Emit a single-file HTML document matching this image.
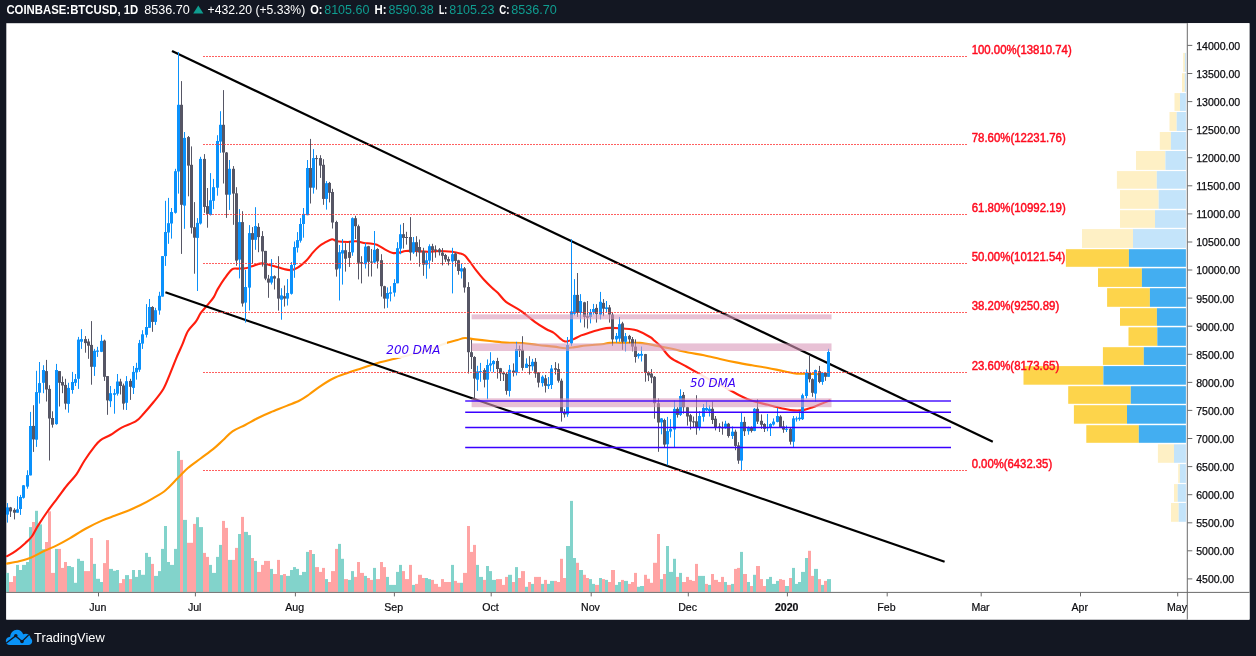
<!DOCTYPE html>
<html><head><meta charset="utf-8"><title>COINBASE:BTCUSD 1D - TradingView</title>
<style>html,body{margin:0;padding:0;background:#131722;overflow:hidden}svg{display:block}text{font-family:"Liberation Sans","DejaVu Sans",sans-serif}</style></head>
<body>
<svg width="1256" height="656" viewBox="0 0 1256 656">
<rect x="0" y="0" width="1256" height="656" fill="#131722"/>
<rect x="6.3" y="23.2" width="1243.1" height="596.3" fill="#ffffff"/>
<g id="vp">
<rect x="1183.2" y="52.9" width="1.7" height="19.0" fill="#fef0c5"/><rect x="1184.9" y="52.9" width="1.0" height="19.0" fill="#c4e4fa"/>
<rect x="1182.0" y="73.2" width="2.8" height="18.7" fill="#fef0c5"/><rect x="1184.8" y="73.2" width="1.1" height="18.7" fill="#c4e4fa"/>
<rect x="1174.5" y="93.1" width="5.5" height="17.8" fill="#fef0c5"/><rect x="1180.0" y="93.1" width="5.9" height="17.8" fill="#c4e4fa"/>
<rect x="1169.5" y="112.0" width="7.2" height="18.9" fill="#fef0c5"/><rect x="1176.7" y="112.0" width="9.2" height="18.9" fill="#c4e4fa"/>
<rect x="1159.8" y="132.0" width="11.1" height="17.8" fill="#fef0c5"/><rect x="1170.9" y="132.0" width="15.0" height="17.8" fill="#c4e4fa"/>
<rect x="1136.0" y="151.0" width="29.4" height="18.9" fill="#fef0c5"/><rect x="1165.4" y="151.0" width="20.5" height="18.9" fill="#c4e4fa"/>
<rect x="1116.9" y="171.1" width="39.9" height="17.6" fill="#fef0c5"/><rect x="1156.8" y="171.1" width="29.1" height="17.6" fill="#c4e4fa"/>
<rect x="1120.0" y="190.1" width="38.7" height="18.7" fill="#fef0c5"/><rect x="1158.7" y="190.1" width="27.2" height="18.7" fill="#c4e4fa"/>
<rect x="1120.0" y="210.2" width="35.0" height="17.6" fill="#fef0c5"/><rect x="1155.0" y="210.2" width="30.9" height="17.6" fill="#c4e4fa"/>
<rect x="1082.0" y="229.1" width="51.0" height="18.8" fill="#fef0c5"/><rect x="1133.0" y="229.1" width="52.9" height="18.8" fill="#c4e4fa"/>
<rect x="1065.9" y="249.2" width="63.0" height="17.6" fill="#fdd44b"/><rect x="1128.9" y="249.2" width="57.0" height="17.6" fill="#43aef1"/>
<rect x="1098.0" y="268.3" width="43.9" height="18.6" fill="#fdd44b"/><rect x="1141.9" y="268.3" width="44.0" height="18.6" fill="#43aef1"/>
<rect x="1107.1" y="288.2" width="42.8" height="18.6" fill="#fdd44b"/><rect x="1149.9" y="288.2" width="36.0" height="18.6" fill="#43aef1"/>
<rect x="1120.0" y="308.2" width="36.9" height="17.6" fill="#fdd44b"/><rect x="1156.9" y="308.2" width="29.0" height="17.6" fill="#43aef1"/>
<rect x="1128.5" y="327.3" width="28.8" height="18.5" fill="#fdd44b"/><rect x="1157.3" y="327.3" width="28.6" height="18.5" fill="#43aef1"/>
<rect x="1102.9" y="347.2" width="40.9" height="17.7" fill="#fdd44b"/><rect x="1143.8" y="347.2" width="42.1" height="17.7" fill="#43aef1"/>
<rect x="1023.5" y="366.1" width="79.9" height="18.6" fill="#fdd44b"/><rect x="1103.4" y="366.1" width="82.5" height="18.6" fill="#43aef1"/>
<rect x="1068.2" y="386.2" width="62.6" height="17.6" fill="#fdd44b"/><rect x="1130.8" y="386.2" width="55.1" height="17.6" fill="#43aef1"/>
<rect x="1073.9" y="405.2" width="53.1" height="18.5" fill="#fdd44b"/><rect x="1127.0" y="405.2" width="58.9" height="18.5" fill="#43aef1"/>
<rect x="1086.3" y="425.2" width="52.5" height="17.6" fill="#fdd44b"/><rect x="1138.8" y="425.2" width="47.1" height="17.6" fill="#43aef1"/>
<rect x="1157.9" y="444.3" width="16.1" height="18.5" fill="#fef0c5"/><rect x="1174.0" y="444.3" width="11.9" height="18.5" fill="#c4e4fa"/>
<rect x="1178.2" y="464.1" width="1.7" height="18.8" fill="#fef0c5"/><rect x="1179.9" y="464.1" width="6.0" height="18.8" fill="#c4e4fa"/>
<rect x="1174.0" y="484.1" width="3.7" height="17.7" fill="#fef0c5"/><rect x="1177.7" y="484.1" width="8.2" height="17.7" fill="#c4e4fa"/>
<rect x="1171.0" y="503.0" width="7.7" height="18.8" fill="#fef0c5"/><rect x="1178.7" y="503.0" width="7.2" height="18.8" fill="#c4e4fa"/>
</g>
<g id="vol">
<rect x="6" y="572.9" width="3" height="19.0" fill="#82d3cb"/><rect x="9" y="582.0" width="4" height="9.9" fill="#ffa4a4"/><rect x="13" y="576.1" width="3" height="15.8" fill="#ffa4a4"/><rect x="16" y="564.9" width="3" height="27.0" fill="#82d3cb"/><rect x="19" y="570.0" width="3" height="21.9" fill="#82d3cb"/><rect x="22" y="564.9" width="4" height="27.0" fill="#82d3cb"/><rect x="26" y="562.0" width="3" height="29.9" fill="#82d3cb"/><rect x="29" y="527.1" width="3" height="64.8" fill="#82d3cb"/><rect x="32" y="522.0" width="3" height="69.9" fill="#ffa4a4"/><rect x="35" y="510.8" width="3" height="81.1" fill="#82d3cb"/><rect x="38" y="524.4" width="4" height="67.5" fill="#82d3cb"/><rect x="42" y="549.2" width="3" height="42.7" fill="#82d3cb"/><rect x="45" y="542.0" width="3" height="49.9" fill="#ffa4a4"/><rect x="48" y="511.3" width="3" height="80.6" fill="#ffa4a4"/><rect x="51" y="572.9" width="4" height="19.0" fill="#ffa4a4"/><rect x="55" y="548.9" width="3" height="43.0" fill="#82d3cb"/><rect x="58" y="548.9" width="3" height="43.0" fill="#ffa4a4"/><rect x="61" y="567.9" width="3" height="24.0" fill="#ffa4a4"/><rect x="64" y="562.0" width="3" height="29.9" fill="#ffa4a4"/><rect x="67" y="566.0" width="4" height="25.9" fill="#82d3cb"/><rect x="71" y="567.1" width="3" height="24.8" fill="#82d3cb"/><rect x="74" y="582.8" width="3" height="9.1" fill="#82d3cb"/><rect x="77" y="558.8" width="3" height="33.1" fill="#82d3cb"/><rect x="80" y="560.9" width="4" height="31.0" fill="#82d3cb"/><rect x="84" y="571.1" width="3" height="20.8" fill="#ffa4a4"/><rect x="87" y="571.1" width="3" height="20.8" fill="#ffa4a4"/><rect x="90" y="538.0" width="3" height="53.9" fill="#ffa4a4"/><rect x="93" y="563.9" width="3" height="28.0" fill="#82d3cb"/><rect x="96" y="578.8" width="4" height="13.1" fill="#82d3cb"/><rect x="100" y="582.0" width="3" height="9.9" fill="#82d3cb"/><rect x="103" y="563.1" width="3" height="28.8" fill="#ffa4a4"/><rect x="106" y="540.1" width="3" height="51.8" fill="#ffa4a4"/><rect x="109" y="568.9" width="4" height="23.0" fill="#82d3cb"/><rect x="113" y="570.8" width="3" height="21.1" fill="#82d3cb"/><rect x="116" y="570.0" width="3" height="21.9" fill="#82d3cb"/><rect x="119" y="583.1" width="3" height="8.8" fill="#ffa4a4"/><rect x="122" y="579.1" width="3" height="12.8" fill="#ffa4a4"/><rect x="125" y="575.1" width="4" height="16.8" fill="#82d3cb"/><rect x="129" y="579.1" width="3" height="12.8" fill="#ffa4a4"/><rect x="132" y="570.0" width="3" height="21.9" fill="#82d3cb"/><rect x="135" y="576.9" width="3" height="15.0" fill="#82d3cb"/><rect x="138" y="570.0" width="3" height="21.9" fill="#82d3cb"/><rect x="141" y="574.8" width="4" height="17.1" fill="#82d3cb"/><rect x="145" y="552.9" width="3" height="39.0" fill="#82d3cb"/><rect x="148" y="556.9" width="3" height="35.0" fill="#82d3cb"/><rect x="151" y="563.9" width="3" height="28.0" fill="#ffa4a4"/><rect x="154" y="575.9" width="4" height="16.0" fill="#82d3cb"/><rect x="158" y="571.1" width="3" height="20.8" fill="#82d3cb"/><rect x="161" y="548.9" width="3" height="43.0" fill="#82d3cb"/><rect x="164" y="526.0" width="3" height="65.9" fill="#82d3cb"/><rect x="167" y="562.0" width="3" height="29.9" fill="#82d3cb"/><rect x="170" y="564.9" width="4" height="27.0" fill="#82d3cb"/><rect x="174" y="548.9" width="3" height="43.0" fill="#82d3cb"/><rect x="177" y="451.0" width="3" height="140.9" fill="#82d3cb"/><rect x="180" y="459.9" width="3" height="132.0" fill="#ffa4a4"/><rect x="183" y="519.9" width="4" height="72.0" fill="#82d3cb"/><rect x="187" y="542.8" width="3" height="49.1" fill="#ffa4a4"/><rect x="190" y="542.8" width="3" height="49.1" fill="#ffa4a4"/><rect x="193" y="523.9" width="3" height="68.0" fill="#ffa4a4"/><rect x="196" y="517.2" width="3" height="74.7" fill="#82d3cb"/><rect x="199" y="527.1" width="4" height="64.8" fill="#82d3cb"/><rect x="203" y="552.9" width="3" height="39.0" fill="#ffa4a4"/><rect x="206" y="556.9" width="3" height="35.0" fill="#ffa4a4"/><rect x="209" y="564.9" width="3" height="27.0" fill="#82d3cb"/><rect x="212" y="572.9" width="4" height="19.0" fill="#82d3cb"/><rect x="216" y="556.9" width="3" height="35.0" fill="#82d3cb"/><rect x="219" y="544.9" width="3" height="47.0" fill="#82d3cb"/><rect x="222" y="520.9" width="3" height="71.0" fill="#ffa4a4"/><rect x="225" y="527.9" width="3" height="64.0" fill="#ffa4a4"/><rect x="228" y="559.9" width="4" height="32.0" fill="#82d3cb"/><rect x="232" y="559.9" width="3" height="32.0" fill="#ffa4a4"/><rect x="235" y="547.9" width="3" height="44.0" fill="#ffa4a4"/><rect x="238" y="534.0" width="3" height="57.9" fill="#82d3cb"/><rect x="241" y="516.9" width="3" height="75.0" fill="#ffa4a4"/><rect x="244" y="531.9" width="4" height="60.0" fill="#82d3cb"/><rect x="248" y="535.1" width="3" height="56.8" fill="#82d3cb"/><rect x="251" y="558.0" width="3" height="33.9" fill="#ffa4a4"/><rect x="254" y="560.9" width="3" height="31.0" fill="#82d3cb"/><rect x="257" y="571.9" width="4" height="20.0" fill="#ffa4a4"/><rect x="261" y="564.9" width="3" height="27.0" fill="#ffa4a4"/><rect x="264" y="560.9" width="3" height="31.0" fill="#ffa4a4"/><rect x="267" y="560.9" width="3" height="31.0" fill="#ffa4a4"/><rect x="270" y="568.9" width="3" height="23.0" fill="#82d3cb"/><rect x="273" y="574.0" width="4" height="17.9" fill="#ffa4a4"/><rect x="277" y="559.9" width="3" height="32.0" fill="#ffa4a4"/><rect x="280" y="575.1" width="3" height="16.8" fill="#82d3cb"/><rect x="283" y="574.0" width="3" height="17.9" fill="#ffa4a4"/><rect x="286" y="575.9" width="4" height="16.0" fill="#82d3cb"/><rect x="290" y="570.0" width="3" height="21.9" fill="#82d3cb"/><rect x="293" y="567.1" width="3" height="24.8" fill="#82d3cb"/><rect x="296" y="568.9" width="3" height="23.0" fill="#82d3cb"/><rect x="299" y="575.1" width="3" height="16.8" fill="#82d3cb"/><rect x="302" y="571.9" width="4" height="20.0" fill="#82d3cb"/><rect x="306" y="551.9" width="3" height="40.0" fill="#82d3cb"/><rect x="309" y="550.0" width="3" height="41.9" fill="#ffa4a4"/><rect x="312" y="554.0" width="3" height="37.9" fill="#82d3cb"/><rect x="315" y="567.1" width="4" height="24.8" fill="#ffa4a4"/><rect x="319" y="571.9" width="3" height="20.0" fill="#ffa4a4"/><rect x="322" y="567.9" width="3" height="24.0" fill="#ffa4a4"/><rect x="325" y="579.1" width="3" height="12.8" fill="#82d3cb"/><rect x="328" y="582.0" width="3" height="9.9" fill="#ffa4a4"/><rect x="331" y="571.1" width="4" height="20.8" fill="#ffa4a4"/><rect x="335" y="548.9" width="3" height="43.0" fill="#ffa4a4"/><rect x="338" y="543.9" width="3" height="48.0" fill="#82d3cb"/><rect x="341" y="558.8" width="3" height="33.1" fill="#82d3cb"/><rect x="344" y="579.1" width="4" height="12.8" fill="#ffa4a4"/><rect x="348" y="579.9" width="3" height="12.0" fill="#82d3cb"/><rect x="351" y="571.1" width="3" height="20.8" fill="#82d3cb"/><rect x="354" y="576.9" width="3" height="15.0" fill="#ffa4a4"/><rect x="357" y="562.0" width="3" height="29.9" fill="#ffa4a4"/><rect x="360" y="572.9" width="4" height="19.0" fill="#ffa4a4"/><rect x="364" y="575.9" width="3" height="16.0" fill="#82d3cb"/><rect x="367" y="578.0" width="3" height="13.9" fill="#ffa4a4"/><rect x="370" y="579.9" width="3" height="12.0" fill="#ffa4a4"/><rect x="373" y="567.9" width="3" height="24.0" fill="#82d3cb"/><rect x="376" y="579.1" width="4" height="12.8" fill="#ffa4a4"/><rect x="380" y="562.0" width="3" height="29.9" fill="#ffa4a4"/><rect x="383" y="567.1" width="3" height="24.8" fill="#ffa4a4"/><rect x="386" y="576.9" width="3" height="15.0" fill="#82d3cb"/><rect x="389" y="584.9" width="4" height="7.0" fill="#82d3cb"/><rect x="393" y="584.9" width="3" height="7.0" fill="#82d3cb"/><rect x="396" y="571.9" width="3" height="20.0" fill="#82d3cb"/><rect x="399" y="564.9" width="3" height="27.0" fill="#82d3cb"/><rect x="402" y="571.1" width="3" height="20.8" fill="#ffa4a4"/><rect x="405" y="579.1" width="4" height="12.8" fill="#ffa4a4"/><rect x="409" y="564.9" width="3" height="27.0" fill="#ffa4a4"/><rect x="412" y="584.9" width="3" height="7.0" fill="#82d3cb"/><rect x="415" y="583.9" width="3" height="8.0" fill="#ffa4a4"/><rect x="418" y="574.8" width="4" height="17.1" fill="#ffa4a4"/><rect x="422" y="578.0" width="3" height="13.9" fill="#ffa4a4"/><rect x="425" y="578.0" width="3" height="13.9" fill="#82d3cb"/><rect x="428" y="579.1" width="3" height="12.8" fill="#82d3cb"/><rect x="431" y="579.9" width="3" height="12.0" fill="#ffa4a4"/><rect x="434" y="583.9" width="4" height="8.0" fill="#ffa4a4"/><rect x="438" y="586.8" width="3" height="5.1" fill="#ffa4a4"/><rect x="441" y="579.1" width="3" height="12.8" fill="#ffa4a4"/><rect x="444" y="582.0" width="3" height="9.9" fill="#ffa4a4"/><rect x="447" y="582.0" width="4" height="9.9" fill="#ffa4a4"/><rect x="451" y="564.9" width="3" height="27.0" fill="#82d3cb"/><rect x="454" y="580.9" width="3" height="11.0" fill="#ffa4a4"/><rect x="457" y="582.8" width="3" height="9.1" fill="#ffa4a4"/><rect x="460" y="582.8" width="3" height="9.1" fill="#82d3cb"/><rect x="463" y="572.9" width="4" height="19.0" fill="#ffa4a4"/><rect x="467" y="526.0" width="3" height="65.9" fill="#ffa4a4"/><rect x="470" y="551.9" width="3" height="40.0" fill="#ffa4a4"/><rect x="473" y="544.9" width="3" height="47.0" fill="#ffa4a4"/><rect x="476" y="564.9" width="3" height="27.0" fill="#82d3cb"/><rect x="479" y="576.9" width="4" height="15.0" fill="#82d3cb"/><rect x="483" y="579.9" width="3" height="12.0" fill="#ffa4a4"/><rect x="486" y="566.0" width="3" height="25.9" fill="#82d3cb"/><rect x="489" y="571.1" width="3" height="20.8" fill="#82d3cb"/><rect x="492" y="579.9" width="4" height="12.0" fill="#82d3cb"/><rect x="496" y="579.1" width="3" height="12.8" fill="#ffa4a4"/><rect x="499" y="579.1" width="3" height="12.8" fill="#ffa4a4"/><rect x="502" y="584.9" width="3" height="7.0" fill="#ffa4a4"/><rect x="505" y="576.9" width="3" height="15.0" fill="#ffa4a4"/><rect x="508" y="574.8" width="4" height="17.1" fill="#82d3cb"/><rect x="512" y="582.0" width="3" height="9.9" fill="#ffa4a4"/><rect x="515" y="567.1" width="3" height="24.8" fill="#82d3cb"/><rect x="518" y="578.0" width="3" height="13.9" fill="#ffa4a4"/><rect x="521" y="571.1" width="4" height="20.8" fill="#ffa4a4"/><rect x="525" y="586.8" width="3" height="5.1" fill="#82d3cb"/><rect x="528" y="582.0" width="3" height="9.9" fill="#ffa4a4"/><rect x="531" y="583.9" width="3" height="8.0" fill="#82d3cb"/><rect x="534" y="576.9" width="3" height="15.0" fill="#ffa4a4"/><rect x="537" y="576.9" width="4" height="15.0" fill="#ffa4a4"/><rect x="541" y="583.9" width="3" height="8.0" fill="#82d3cb"/><rect x="544" y="579.9" width="3" height="12.0" fill="#ffa4a4"/><rect x="547" y="583.9" width="3" height="8.0" fill="#82d3cb"/><rect x="550" y="580.9" width="4" height="11.0" fill="#82d3cb"/><rect x="554" y="580.9" width="3" height="11.0" fill="#ffa4a4"/><rect x="557" y="582.0" width="3" height="9.9" fill="#ffa4a4"/><rect x="560" y="558.8" width="3" height="33.1" fill="#ffa4a4"/><rect x="563" y="578.0" width="3" height="13.9" fill="#ffa4a4"/><rect x="566" y="546.0" width="4" height="45.9" fill="#82d3cb"/><rect x="570" y="500.9" width="3" height="91.0" fill="#82d3cb"/><rect x="573" y="558.0" width="3" height="33.9" fill="#82d3cb"/><rect x="576" y="562.8" width="3" height="29.1" fill="#ffa4a4"/><rect x="579" y="570.0" width="4" height="21.9" fill="#82d3cb"/><rect x="583" y="574.8" width="3" height="17.1" fill="#ffa4a4"/><rect x="586" y="578.0" width="3" height="13.9" fill="#ffa4a4"/><rect x="589" y="579.1" width="3" height="12.8" fill="#82d3cb"/><rect x="592" y="583.9" width="3" height="8.0" fill="#82d3cb"/><rect x="595" y="584.9" width="4" height="7.0" fill="#ffa4a4"/><rect x="599" y="578.0" width="3" height="13.9" fill="#82d3cb"/><rect x="602" y="579.1" width="3" height="12.8" fill="#ffa4a4"/><rect x="605" y="579.9" width="3" height="12.0" fill="#82d3cb"/><rect x="608" y="582.0" width="3" height="9.9" fill="#ffa4a4"/><rect x="611" y="570.0" width="4" height="21.9" fill="#ffa4a4"/><rect x="615" y="584.9" width="3" height="7.0" fill="#82d3cb"/><rect x="618" y="582.0" width="3" height="9.9" fill="#82d3cb"/><rect x="621" y="579.9" width="3" height="12.0" fill="#ffa4a4"/><rect x="624" y="580.9" width="4" height="11.0" fill="#82d3cb"/><rect x="628" y="583.9" width="3" height="8.0" fill="#ffa4a4"/><rect x="631" y="582.0" width="3" height="9.9" fill="#ffa4a4"/><rect x="634" y="572.9" width="3" height="19.0" fill="#ffa4a4"/><rect x="637" y="586.8" width="3" height="5.1" fill="#82d3cb"/><rect x="640" y="586.0" width="4" height="5.9" fill="#82d3cb"/><rect x="644" y="574.8" width="3" height="17.1" fill="#ffa4a4"/><rect x="647" y="578.8" width="3" height="13.1" fill="#ffa4a4"/><rect x="650" y="582.8" width="3" height="9.1" fill="#ffa4a4"/><rect x="653" y="562.8" width="4" height="29.1" fill="#ffa4a4"/><rect x="657" y="534.0" width="3" height="57.9" fill="#ffa4a4"/><rect x="660" y="579.1" width="3" height="12.8" fill="#82d3cb"/><rect x="663" y="574.0" width="3" height="17.9" fill="#ffa4a4"/><rect x="666" y="546.0" width="3" height="45.9" fill="#82d3cb"/><rect x="669" y="571.9" width="4" height="20.0" fill="#82d3cb"/><rect x="673" y="558.8" width="3" height="33.1" fill="#82d3cb"/><rect x="676" y="576.9" width="3" height="15.0" fill="#ffa4a4"/><rect x="679" y="572.9" width="3" height="19.0" fill="#82d3cb"/><rect x="682" y="582.0" width="4" height="9.9" fill="#ffa4a4"/><rect x="686" y="576.9" width="3" height="15.0" fill="#ffa4a4"/><rect x="689" y="579.9" width="3" height="12.0" fill="#ffa4a4"/><rect x="692" y="580.9" width="3" height="11.0" fill="#ffa4a4"/><rect x="695" y="563.9" width="3" height="28.0" fill="#ffa4a4"/><rect x="698" y="575.9" width="4" height="16.0" fill="#82d3cb"/><rect x="702" y="575.9" width="3" height="16.0" fill="#82d3cb"/><rect x="705" y="583.9" width="3" height="8.0" fill="#ffa4a4"/><rect x="708" y="584.9" width="3" height="7.0" fill="#82d3cb"/><rect x="711" y="574.0" width="3" height="17.9" fill="#ffa4a4"/><rect x="714" y="579.9" width="4" height="12.0" fill="#ffa4a4"/><rect x="718" y="582.0" width="3" height="9.9" fill="#ffa4a4"/><rect x="721" y="576.9" width="3" height="15.0" fill="#ffa4a4"/><rect x="724" y="582.0" width="3" height="9.9" fill="#82d3cb"/><rect x="727" y="584.9" width="4" height="7.0" fill="#ffa4a4"/><rect x="731" y="583.9" width="3" height="8.0" fill="#82d3cb"/><rect x="734" y="568.9" width="3" height="23.0" fill="#ffa4a4"/><rect x="737" y="567.9" width="3" height="24.0" fill="#ffa4a4"/><rect x="740" y="551.9" width="3" height="40.0" fill="#82d3cb"/><rect x="743" y="574.0" width="4" height="17.9" fill="#ffa4a4"/><rect x="747" y="582.0" width="3" height="9.9" fill="#82d3cb"/><rect x="750" y="586.0" width="3" height="5.9" fill="#ffa4a4"/><rect x="753" y="574.8" width="3" height="17.1" fill="#82d3cb"/><rect x="756" y="566.0" width="4" height="25.9" fill="#ffa4a4"/><rect x="760" y="579.1" width="3" height="12.8" fill="#ffa4a4"/><rect x="763" y="586.0" width="3" height="5.9" fill="#ffa4a4"/><rect x="766" y="579.1" width="3" height="12.8" fill="#82d3cb"/><rect x="769" y="576.9" width="3" height="15.0" fill="#82d3cb"/><rect x="772" y="583.9" width="4" height="8.0" fill="#82d3cb"/><rect x="776" y="580.9" width="3" height="11.0" fill="#82d3cb"/><rect x="779" y="579.1" width="3" height="12.8" fill="#ffa4a4"/><rect x="782" y="579.9" width="3" height="12.0" fill="#ffa4a4"/><rect x="785" y="586.0" width="4" height="5.9" fill="#82d3cb"/><rect x="789" y="578.0" width="3" height="13.9" fill="#ffa4a4"/><rect x="792" y="567.9" width="3" height="24.0" fill="#82d3cb"/><rect x="795" y="583.9" width="3" height="8.0" fill="#82d3cb"/><rect x="798" y="582.0" width="3" height="9.9" fill="#82d3cb"/><rect x="801" y="571.9" width="4" height="20.0" fill="#82d3cb"/><rect x="805" y="558.0" width="3" height="33.9" fill="#82d3cb"/><rect x="808" y="550.8" width="3" height="41.1" fill="#ffa4a4"/><rect x="811" y="575.9" width="3" height="16.0" fill="#ffa4a4"/><rect x="814" y="568.9" width="4" height="23.0" fill="#82d3cb"/><rect x="818" y="579.1" width="3" height="12.8" fill="#ffa4a4"/><rect x="821" y="584.9" width="3" height="7.0" fill="#82d3cb"/><rect x="824" y="580.9" width="3" height="11.0" fill="#ffa4a4"/><rect x="827" y="579.1" width="4" height="12.8" fill="#82d3cb"/>
</g>
<path d="M7.0,563.6 C9.0,563.2 15.0,562.4 19.1,561.3 C23.2,560.2 27.6,559.0 31.8,557.2 C36.0,555.5 40.4,552.8 44.6,550.8 C48.9,548.8 53.0,547.2 57.3,545.1 C61.5,543.0 65.3,540.9 70.1,538.1 C74.9,535.3 80.7,531.4 86.0,528.5 C91.3,525.6 97.1,522.7 101.9,520.6 C106.7,518.5 110.3,517.4 114.6,515.8 C118.8,514.2 123.2,512.8 127.4,511.0 C131.7,509.2 135.8,507.4 140.1,505.3 C144.3,503.2 148.7,500.8 152.9,498.3 C157.2,495.8 161.4,493.8 165.6,490.3 C169.8,486.9 174.6,481.3 178.3,477.6 C182.0,473.9 184.2,471.2 187.9,468.0 C191.6,464.8 196.3,461.7 200.6,458.5 C204.8,455.3 209.7,451.9 213.4,448.9 C217.1,445.9 219.7,443.2 222.9,440.3 C226.1,437.4 228.8,433.9 232.5,431.4 C236.2,428.8 240.9,427.2 245.2,425.0 C249.4,422.8 253.8,420.1 258.0,418.0 C262.2,415.9 265.9,414.3 270.7,412.3 C275.5,410.3 281.8,407.9 286.6,405.9 C291.4,403.9 295.9,402.4 299.6,400.5 C303.4,398.6 305.9,396.7 309.1,394.5 C312.3,392.3 314.7,390.0 318.7,387.3 C322.7,384.6 328.3,380.9 333.1,378.5 C337.9,376.1 342.6,374.7 347.4,373.0 C352.2,371.3 357.0,369.8 361.8,368.2 C366.6,366.6 371.3,364.8 376.1,363.4 C380.9,362.0 385.7,361.0 390.5,359.8 C395.3,358.6 400.0,357.5 404.8,356.2 C409.6,354.9 414.4,353.6 419.2,352.2 C424.0,350.8 428.7,349.4 433.5,347.8 C438.3,346.2 443.9,343.9 447.9,342.6 C451.9,341.3 454.6,340.8 457.5,340.0 C460.4,339.2 462.1,338.1 465.0,338.0 C467.9,337.9 470.8,338.9 475.0,339.4 C479.2,339.9 484.8,340.5 490.0,341.0 C495.2,341.5 500.7,342.3 506.0,342.6 C511.3,342.9 516.7,342.6 522.0,343.0 C527.3,343.4 532.7,344.4 538.0,345.0 C543.3,345.6 549.5,346.1 554.0,346.6 C558.5,347.1 561.7,348.1 565.2,348.2 C568.7,348.3 571.3,347.6 574.8,347.1 C578.3,346.7 581.5,346.0 586.0,345.5 C590.5,345.0 598.0,344.6 602.0,344.2 C606.0,343.8 606.0,343.1 610.0,342.9 C614.0,342.7 621.0,342.9 626.0,342.9 C631.0,342.9 635.0,342.4 640.0,342.9 C645.0,343.3 650.7,344.6 656.0,345.6 C661.3,346.6 666.7,347.7 672.0,348.8 C677.3,349.9 682.7,351.4 688.0,352.5 C693.3,353.6 698.7,354.1 704.0,355.2 C709.3,356.3 714.7,357.7 720.0,358.9 C725.3,360.1 730.7,361.3 736.0,362.4 C741.3,363.5 746.7,364.4 752.0,365.3 C757.3,366.2 762.7,367.0 768.0,368.0 C773.3,369.0 779.2,370.3 784.0,371.2 C788.8,372.1 793.1,373.2 796.8,373.6 C800.5,374.0 803.7,373.7 806.4,373.8 C809.1,373.9 809.0,373.9 812.8,374.0 C816.6,374.1 826.3,374.5 829.0,374.6" fill="none" stroke="#ff9800" stroke-width="2.1" stroke-linejoin="round" stroke-linecap="round"/>
<path d="M7.0,556.2 C8.5,555.3 12.8,553.0 15.9,550.8 C19.0,548.6 22.9,545.3 25.5,542.9 C28.1,540.5 29.7,539.4 31.8,536.5 C33.9,533.6 35.5,529.6 38.2,525.4 C40.9,521.1 44.6,515.5 47.8,511.0 C51.0,506.5 54.1,502.6 57.3,498.3 C60.5,494.1 63.7,489.5 66.9,485.5 C70.1,481.5 73.5,478.5 76.4,474.4 C79.3,470.3 81.5,465.2 84.4,460.7 C87.3,456.2 91.2,450.7 93.9,447.3 C96.6,443.9 97.5,442.4 100.3,440.3 C103.0,438.2 106.9,437.1 110.4,435.0 C114.0,432.9 117.3,429.9 121.6,427.6 C125.9,425.3 132.3,423.6 136.0,421.2 C139.7,418.8 141.1,416.4 144.0,413.2 C146.9,410.0 150.4,406.0 153.6,402.0 C156.8,398.0 160.5,393.7 163.2,389.2 C165.9,384.7 167.5,379.9 169.6,374.8 C171.7,369.7 173.9,363.9 176.0,358.8 C178.1,353.7 180.4,349.0 182.4,344.4 C184.4,339.8 185.7,334.8 188.0,331.0 C190.3,327.2 193.9,324.4 196.0,321.4 C198.1,318.4 198.9,315.6 200.8,312.9 C202.7,310.2 205.1,308.0 207.2,305.4 C209.3,302.8 211.9,300.1 213.6,297.4 C215.3,294.7 215.7,292.6 217.6,289.4 C219.5,286.2 222.4,281.5 224.8,278.2 C227.2,274.9 229.9,271.0 232.0,269.4 C234.1,267.8 235.3,268.8 237.6,268.6 C239.9,268.4 243.2,268.6 245.6,268.2 C248.0,267.8 249.3,267.1 252.0,266.3 C254.7,265.5 258.1,263.5 261.6,263.4 C265.1,263.3 269.1,264.9 272.8,265.8 C276.5,266.7 281.1,268.3 284.0,269.0 C286.9,269.7 288.3,270.2 290.4,270.1 C292.5,270.0 294.1,269.8 296.8,268.2 C299.5,266.6 303.7,263.0 306.4,260.4 C309.1,257.8 310.7,255.0 312.8,252.6 C314.9,250.2 317.1,247.9 319.2,246.2 C321.3,244.5 323.5,243.4 325.6,242.2 C327.7,241.0 330.1,239.4 332.0,239.2 C333.9,239.0 334.1,240.7 336.8,241.2 C339.5,241.7 344.8,242.0 348.0,242.0 C351.2,242.0 353.3,241.0 356.0,241.2 C358.7,241.4 361.6,242.6 364.0,243.0 C366.4,243.4 368.3,243.2 370.4,243.5 C372.5,243.8 374.4,243.7 376.8,244.7 C379.2,245.7 382.1,248.0 384.8,249.4 C387.5,250.8 390.4,252.5 392.8,253.0 C395.2,253.5 397.1,252.9 399.2,252.6 C401.3,252.3 402.9,251.3 405.6,251.0 C408.3,250.7 411.5,250.9 415.2,251.0 C418.9,251.1 424.0,251.8 428.0,251.8 C432.0,251.8 435.2,251.0 439.2,251.0 C443.2,251.0 448.5,251.4 452.0,251.8 C455.5,252.2 457.9,252.8 460.0,253.4 C462.1,254.0 463.2,254.2 464.8,255.5 C466.4,256.8 467.7,258.9 469.6,261.4 C471.5,263.8 473.6,267.1 476.0,270.2 C478.4,273.3 481.3,276.9 484.0,279.8 C486.7,282.7 489.7,285.6 492.0,287.8 C494.3,290.0 495.7,290.7 498.0,293.0 C500.3,295.3 502.3,298.9 506.0,301.8 C509.7,304.7 515.6,307.3 520.4,310.6 C525.2,313.9 530.5,318.7 534.8,321.8 C539.1,324.9 542.8,327.1 546.0,329.0 C549.2,330.9 551.6,331.4 554.0,333.0 C556.4,334.6 558.7,337.2 560.4,338.6 C562.1,340.0 563.1,340.9 564.4,341.3 C565.7,341.7 566.9,341.3 568.4,341.0 C569.9,340.7 571.1,340.3 573.2,339.4 C575.3,338.5 578.3,336.6 581.2,335.4 C584.1,334.2 587.3,333.3 590.8,332.2 C594.3,331.1 598.8,329.7 602.0,329.0 C605.2,328.3 607.1,328.0 610.0,327.9 C612.9,327.8 616.4,328.0 619.6,328.2 C622.8,328.4 626.3,328.6 629.2,329.0 C632.1,329.4 633.7,329.3 637.2,330.6 C640.7,331.9 647.3,335.4 650.0,337.0 C652.7,338.6 651.8,338.4 653.6,340.0 C655.4,341.6 658.0,343.5 660.8,346.4 C663.6,349.3 666.4,354.4 670.4,357.6 C674.4,360.8 680.3,363.1 684.8,365.6 C689.3,368.1 693.9,370.7 697.6,372.8 C701.3,374.9 702.7,376.0 707.2,378.4 C711.7,380.8 719.5,384.4 724.8,387.2 C730.1,390.0 734.7,392.9 739.2,395.2 C743.7,397.5 747.2,399.2 752.0,400.8 C756.8,402.4 762.7,403.5 768.0,404.8 C773.3,406.1 779.7,407.9 784.0,408.8 C788.3,409.7 790.4,410.2 793.6,410.4 C796.8,410.6 800.0,410.6 803.2,410.1 C806.4,409.6 809.9,408.2 812.8,407.2 C815.7,406.2 818.0,405.1 820.8,404.0 C823.6,402.9 828.1,401.1 829.6,400.5" fill="none" stroke="#ff1d0d" stroke-width="2.1" stroke-linejoin="round" stroke-linecap="round"/>
<line x1="172" y1="51" x2="992.8" y2="441.7" stroke="#000" stroke-width="2.2" stroke-linecap="butt"/>
<line x1="165.4" y1="292.2" x2="944.6" y2="561.8" stroke="#000" stroke-width="2.2" stroke-linecap="butt"/>
<g id="candles">
<rect x="7" y="503.1" width="1" height="19.5" fill="#0a91fb"/><rect x="6" y="507.4" width="3" height="7.2" fill="#0a91fb"/>
<rect x="10" y="506.9" width="1" height="10.1" fill="#565665"/><rect x="9" y="507.4" width="3" height="4.0" fill="#565665"/>
<rect x="14" y="508.2" width="1" height="11.2" fill="#565665"/><rect x="13" y="509.8" width="3" height="2.9" fill="#565665"/>
<rect x="17" y="496.2" width="1" height="16.5" fill="#0a91fb"/><rect x="16" y="509.3" width="3" height="3.4" fill="#0a91fb"/>
<rect x="20" y="494.9" width="1" height="20.0" fill="#0a91fb"/><rect x="19" y="497.0" width="3" height="12.0" fill="#0a91fb"/>
<rect x="23" y="485.0" width="1" height="13.6" fill="#0a91fb"/><rect x="22" y="485.3" width="3" height="12.5" fill="#0a91fb"/>
<rect x="27" y="470.3" width="1" height="18.4" fill="#0a91fb"/><rect x="26" y="475.1" width="3" height="11.5" fill="#0a91fb"/>
<rect x="30" y="411.9" width="1" height="63.5" fill="#0a91fb"/><rect x="29" y="426.0" width="3" height="49.4" fill="#0a91fb"/>
<rect x="33" y="405.2" width="1" height="46.7" fill="#565665"/><rect x="32" y="425.9" width="3" height="13.5" fill="#565665"/>
<rect x="36" y="370.8" width="1" height="76.1" fill="#0a91fb"/><rect x="35" y="392.1" width="3" height="47.6" fill="#0a91fb"/>
<rect x="39" y="362.0" width="1" height="41.6" fill="#0a91fb"/><rect x="38" y="383.1" width="3" height="9.6" fill="#0a91fb"/>
<rect x="43" y="365.2" width="1" height="28.0" fill="#0a91fb"/><rect x="42" y="370.0" width="3" height="12.8" fill="#0a91fb"/>
<rect x="46" y="359.9" width="1" height="41.6" fill="#565665"/><rect x="45" y="371.1" width="3" height="18.4" fill="#565665"/>
<rect x="49" y="385.2" width="1" height="75.3" fill="#565665"/><rect x="48" y="388.9" width="3" height="29.6" fill="#565665"/>
<rect x="52" y="411.3" width="1" height="16.3" fill="#565665"/><rect x="51" y="418.0" width="3" height="6.7" fill="#565665"/>
<rect x="56" y="363.9" width="1" height="60.8" fill="#0a91fb"/><rect x="55" y="370.0" width="3" height="54.1" fill="#0a91fb"/>
<rect x="59" y="371.1" width="1" height="35.4" fill="#565665"/><rect x="58" y="371.1" width="3" height="11.7" fill="#565665"/>
<rect x="62" y="376.4" width="1" height="16.8" fill="#565665"/><rect x="61" y="382.0" width="3" height="3.5" fill="#565665"/>
<rect x="65" y="378.8" width="1" height="30.7" fill="#565665"/><rect x="64" y="384.9" width="3" height="18.7" fill="#565665"/>
<rect x="68" y="382.8" width="1" height="29.9" fill="#0a91fb"/><rect x="67" y="387.9" width="3" height="16.0" fill="#0a91fb"/>
<rect x="72" y="371.9" width="1" height="21.8" fill="#0a91fb"/><rect x="71" y="382.0" width="3" height="8.0" fill="#0a91fb"/>
<rect x="75" y="374.0" width="1" height="12.0" fill="#0a91fb"/><rect x="74" y="379.1" width="3" height="3.7" fill="#0a91fb"/>
<rect x="78" y="336.9" width="1" height="52.0" fill="#0a91fb"/><rect x="77" y="339.6" width="3" height="39.2" fill="#0a91fb"/>
<rect x="81" y="329.1" width="1" height="19.8" fill="#0a91fb"/><rect x="80" y="339.1" width="3" height="2.6" fill="#0a91fb"/>
<rect x="85" y="336.1" width="1" height="16.6" fill="#565665"/><rect x="84" y="339.1" width="3" height="4.0" fill="#565665"/>
<rect x="88" y="338.8" width="1" height="20.0" fill="#565665"/><rect x="87" y="341.5" width="3" height="4.2" fill="#565665"/>
<rect x="91" y="321.1" width="1" height="63.6" fill="#565665"/><rect x="90" y="344.9" width="3" height="21.9" fill="#565665"/>
<rect x="94" y="348.9" width="1" height="27.0" fill="#0a91fb"/><rect x="93" y="350.8" width="3" height="16.0" fill="#0a91fb"/>
<rect x="97" y="346.8" width="1" height="10.1" fill="#0a91fb"/><rect x="96" y="350.5" width="3" height="1.3" fill="#0a91fb"/>
<rect x="101" y="334.8" width="1" height="17.3" fill="#0a91fb"/><rect x="100" y="340.9" width="3" height="10.9" fill="#0a91fb"/>
<rect x="104" y="339.6" width="1" height="41.3" fill="#565665"/><rect x="103" y="340.6" width="3" height="36.2" fill="#565665"/>
<rect x="107" y="376.1" width="1" height="38.7" fill="#565665"/><rect x="106" y="376.1" width="3" height="24.3" fill="#565665"/>
<rect x="110" y="386.0" width="1" height="21.1" fill="#0a91fb"/><rect x="109" y="393.2" width="3" height="8.0" fill="#0a91fb"/>
<rect x="114" y="388.9" width="1" height="24.8" fill="#0a91fb"/><rect x="113" y="393.2" width="3" height="1.6" fill="#0a91fb"/>
<rect x="117" y="374.0" width="1" height="21.6" fill="#0a91fb"/><rect x="116" y="381.5" width="3" height="12.2" fill="#0a91fb"/>
<rect x="120" y="378.8" width="1" height="15.7" fill="#565665"/><rect x="119" y="381.5" width="3" height="4.5" fill="#565665"/>
<rect x="123" y="383.6" width="1" height="26.1" fill="#565665"/><rect x="122" y="385.5" width="3" height="18.1" fill="#565665"/>
<rect x="126" y="376.1" width="1" height="33.9" fill="#0a91fb"/><rect x="125" y="381.2" width="3" height="21.6" fill="#0a91fb"/>
<rect x="130" y="378.8" width="1" height="21.1" fill="#565665"/><rect x="129" y="380.9" width="3" height="5.9" fill="#565665"/>
<rect x="133" y="366.0" width="1" height="28.0" fill="#0a91fb"/><rect x="132" y="371.9" width="3" height="16.0" fill="#0a91fb"/>
<rect x="136" y="362.8" width="1" height="16.8" fill="#0a91fb"/><rect x="135" y="367.9" width="3" height="4.5" fill="#0a91fb"/>
<rect x="139" y="339.9" width="1" height="32.0" fill="#0a91fb"/><rect x="138" y="343.1" width="3" height="26.6" fill="#0a91fb"/>
<rect x="142" y="330.2" width="1" height="18.7" fill="#0a91fb"/><rect x="141" y="334.3" width="3" height="9.3" fill="#0a91fb"/>
<rect x="146" y="304.1" width="1" height="33.4" fill="#0a91fb"/><rect x="145" y="327.0" width="3" height="7.8" fill="#0a91fb"/>
<rect x="149" y="299.0" width="1" height="28.8" fill="#0a91fb"/><rect x="148" y="307.0" width="3" height="20.8" fill="#0a91fb"/>
<rect x="152" y="306.2" width="1" height="25.6" fill="#565665"/><rect x="151" y="307.0" width="3" height="14.9" fill="#565665"/>
<rect x="155" y="307.8" width="1" height="17.1" fill="#0a91fb"/><rect x="154" y="310.2" width="3" height="11.7" fill="#0a91fb"/>
<rect x="159" y="291.8" width="1" height="22.9" fill="#0a91fb"/><rect x="158" y="295.8" width="3" height="14.7" fill="#0a91fb"/>
<rect x="162" y="256.1" width="1" height="40.5" fill="#0a91fb"/><rect x="161" y="256.1" width="3" height="40.5" fill="#0a91fb"/>
<rect x="165" y="200.8" width="1" height="65.1" fill="#0a91fb"/><rect x="164" y="232.0" width="3" height="24.1" fill="#0a91fb"/>
<rect x="168" y="197.9" width="1" height="45.9" fill="#0a91fb"/><rect x="167" y="223.2" width="3" height="9.3" fill="#0a91fb"/>
<rect x="171" y="208.0" width="1" height="30.6" fill="#0a91fb"/><rect x="170" y="212.0" width="3" height="11.5" fill="#0a91fb"/>
<rect x="175" y="168.8" width="1" height="44.8" fill="#0a91fb"/><rect x="174" y="171.2" width="3" height="41.6" fill="#0a91fb"/>
<rect x="178" y="52.0" width="1" height="141.6" fill="#0a91fb"/><rect x="177" y="104.8" width="3" height="66.7" fill="#0a91fb"/>
<rect x="181" y="81.1" width="1" height="172.8" fill="#565665"/><rect x="180" y="104.8" width="3" height="100.0" fill="#565665"/>
<rect x="184" y="132.0" width="1" height="96.8" fill="#0a91fb"/><rect x="183" y="137.9" width="3" height="67.7" fill="#0a91fb"/>
<rect x="188" y="136.0" width="1" height="60.3" fill="#565665"/><rect x="187" y="137.1" width="3" height="28.5" fill="#565665"/>
<rect x="191" y="146.4" width="1" height="87.2" fill="#565665"/><rect x="190" y="164.8" width="3" height="62.9" fill="#565665"/>
<rect x="194" y="202.1" width="1" height="71.6" fill="#565665"/><rect x="193" y="227.2" width="3" height="10.5" fill="#565665"/>
<rect x="197" y="218.1" width="1" height="72.9" fill="#0a91fb"/><rect x="196" y="222.9" width="3" height="15.0" fill="#0a91fb"/>
<rect x="200" y="156.8" width="1" height="67.7" fill="#0a91fb"/><rect x="199" y="158.9" width="3" height="64.6" fill="#0a91fb"/>
<rect x="204" y="154.1" width="1" height="58.7" fill="#565665"/><rect x="203" y="158.9" width="3" height="48.0" fill="#565665"/>
<rect x="207" y="188.0" width="1" height="39.7" fill="#565665"/><rect x="206" y="206.1" width="3" height="7.8" fill="#565665"/>
<rect x="210" y="173.1" width="1" height="42.4" fill="#0a91fb"/><rect x="209" y="200.3" width="3" height="14.6" fill="#0a91fb"/>
<rect x="213" y="178.9" width="1" height="30.2" fill="#0a91fb"/><rect x="212" y="187.2" width="3" height="13.6" fill="#0a91fb"/>
<rect x="217" y="135.2" width="1" height="60.5" fill="#0a91fb"/><rect x="216" y="141.0" width="3" height="46.7" fill="#0a91fb"/>
<rect x="220" y="111.2" width="1" height="41.6" fill="#0a91fb"/><rect x="219" y="124.8" width="3" height="16.8" fill="#0a91fb"/>
<rect x="223" y="90.1" width="1" height="93.4" fill="#565665"/><rect x="222" y="124.8" width="3" height="27.7" fill="#565665"/>
<rect x="226" y="152.0" width="1" height="65.9" fill="#565665"/><rect x="225" y="152.5" width="3" height="42.2" fill="#565665"/>
<rect x="229" y="160.0" width="1" height="49.9" fill="#0a91fb"/><rect x="228" y="168.8" width="3" height="25.9" fill="#0a91fb"/>
<rect x="233" y="166.1" width="1" height="58.7" fill="#565665"/><rect x="232" y="168.8" width="3" height="24.8" fill="#565665"/>
<rect x="236" y="187.2" width="1" height="78.6" fill="#565665"/><rect x="235" y="193.3" width="3" height="67.3" fill="#565665"/>
<rect x="239" y="209.1" width="1" height="69.3" fill="#0a91fb"/><rect x="238" y="222.1" width="3" height="37.5" fill="#0a91fb"/>
<rect x="242" y="211.2" width="1" height="95.4" fill="#565665"/><rect x="241" y="222.1" width="3" height="81.4" fill="#565665"/>
<rect x="245" y="270.0" width="1" height="52.6" fill="#0a91fb"/><rect x="244" y="287.0" width="3" height="15.6" fill="#0a91fb"/>
<rect x="249" y="225.1" width="1" height="85.5" fill="#0a91fb"/><rect x="248" y="233.1" width="3" height="54.5" fill="#0a91fb"/>
<rect x="252" y="227.1" width="1" height="36.5" fill="#565665"/><rect x="251" y="233.1" width="3" height="6.7" fill="#565665"/>
<rect x="255" y="207.2" width="1" height="42.6" fill="#0a91fb"/><rect x="254" y="226.1" width="3" height="13.7" fill="#0a91fb"/>
<rect x="258" y="223.2" width="1" height="29.0" fill="#565665"/><rect x="257" y="226.9" width="3" height="10.2" fill="#565665"/>
<rect x="262" y="231.1" width="1" height="35.5" fill="#565665"/><rect x="261" y="236.1" width="3" height="15.3" fill="#565665"/>
<rect x="265" y="250.9" width="1" height="29.3" fill="#565665"/><rect x="264" y="250.9" width="3" height="27.7" fill="#565665"/>
<rect x="268" y="274.9" width="1" height="22.9" fill="#565665"/><rect x="267" y="278.6" width="3" height="4.0" fill="#565665"/>
<rect x="271" y="259.1" width="1" height="25.4" fill="#0a91fb"/><rect x="270" y="276.2" width="3" height="6.4" fill="#0a91fb"/>
<rect x="274" y="275.4" width="1" height="14.1" fill="#565665"/><rect x="273" y="276.2" width="3" height="2.4" fill="#565665"/>
<rect x="278" y="256.2" width="1" height="54.4" fill="#565665"/><rect x="277" y="278.3" width="3" height="20.3" fill="#565665"/>
<rect x="281" y="288.2" width="1" height="31.5" fill="#0a91fb"/><rect x="280" y="295.4" width="3" height="4.3" fill="#0a91fb"/>
<rect x="284" y="285.5" width="1" height="21.1" fill="#565665"/><rect x="283" y="296.2" width="3" height="2.4" fill="#565665"/>
<rect x="287" y="279.1" width="1" height="26.4" fill="#0a91fb"/><rect x="286" y="293.0" width="3" height="5.6" fill="#0a91fb"/>
<rect x="291" y="262.1" width="1" height="32.5" fill="#0a91fb"/><rect x="290" y="265.0" width="3" height="28.8" fill="#0a91fb"/>
<rect x="294" y="241.5" width="1" height="36.3" fill="#0a91fb"/><rect x="293" y="247.1" width="3" height="17.9" fill="#0a91fb"/>
<rect x="297" y="232.1" width="1" height="20.4" fill="#0a91fb"/><rect x="296" y="240.1" width="3" height="7.6" fill="#0a91fb"/>
<rect x="300" y="218.1" width="1" height="24.5" fill="#0a91fb"/><rect x="299" y="224.0" width="3" height="16.7" fill="#0a91fb"/>
<rect x="303" y="208.0" width="1" height="29.7" fill="#0a91fb"/><rect x="302" y="213.9" width="3" height="10.1" fill="#0a91fb"/>
<rect x="307" y="160.0" width="1" height="55.2" fill="#0a91fb"/><rect x="306" y="168.0" width="3" height="47.2" fill="#0a91fb"/>
<rect x="310" y="138.9" width="1" height="64.6" fill="#565665"/><rect x="309" y="168.0" width="3" height="19.7" fill="#565665"/>
<rect x="313" y="149.1" width="1" height="44.5" fill="#0a91fb"/><rect x="312" y="158.1" width="3" height="29.6" fill="#0a91fb"/>
<rect x="316" y="155.2" width="1" height="34.4" fill="#565665"/><rect x="315" y="158.1" width="3" height="1.0" fill="#565665"/>
<rect x="320" y="155.2" width="1" height="22.7" fill="#565665"/><rect x="319" y="158.1" width="3" height="7.5" fill="#565665"/>
<rect x="323" y="159.2" width="1" height="45.6" fill="#565665"/><rect x="322" y="164.8" width="3" height="34.1" fill="#565665"/>
<rect x="326" y="181.1" width="1" height="28.5" fill="#0a91fb"/><rect x="325" y="183.2" width="3" height="15.7" fill="#0a91fb"/>
<rect x="329" y="181.9" width="1" height="20.5" fill="#565665"/><rect x="328" y="182.9" width="3" height="9.9" fill="#565665"/>
<rect x="332" y="188.8" width="1" height="39.7" fill="#565665"/><rect x="331" y="192.0" width="3" height="30.5" fill="#565665"/>
<rect x="336" y="220.7" width="1" height="55.9" fill="#565665"/><rect x="335" y="222.0" width="3" height="47.5" fill="#565665"/>
<rect x="339" y="245.0" width="1" height="55.5" fill="#0a91fb"/><rect x="338" y="252.2" width="3" height="16.3" fill="#0a91fb"/>
<rect x="342" y="239.0" width="1" height="45.6" fill="#0a91fb"/><rect x="341" y="250.2" width="3" height="3.3" fill="#0a91fb"/>
<rect x="345" y="243.2" width="1" height="28.4" fill="#565665"/><rect x="344" y="250.2" width="3" height="8.5" fill="#565665"/>
<rect x="349" y="241.0" width="1" height="25.9" fill="#565665"/><rect x="348" y="252.1" width="3" height="5.8" fill="#565665"/>
<rect x="352" y="217.4" width="1" height="38.4" fill="#0a91fb"/><rect x="351" y="218.2" width="3" height="34.2" fill="#0a91fb"/>
<rect x="355" y="215.8" width="1" height="23.2" fill="#565665"/><rect x="354" y="218.2" width="3" height="8.0" fill="#565665"/>
<rect x="358" y="224.6" width="1" height="54.8" fill="#565665"/><rect x="357" y="226.2" width="3" height="36.6" fill="#565665"/>
<rect x="361" y="256.2" width="1" height="27.2" fill="#565665"/><rect x="360" y="262.2" width="3" height="1.2" fill="#565665"/>
<rect x="365" y="243.0" width="1" height="25.5" fill="#0a91fb"/><rect x="364" y="246.6" width="3" height="17.6" fill="#0a91fb"/>
<rect x="368" y="245.8" width="1" height="30.7" fill="#565665"/><rect x="367" y="246.2" width="3" height="15.6" fill="#565665"/>
<rect x="371" y="249.0" width="1" height="27.5" fill="#565665"/><rect x="370" y="261.6" width="3" height="1.0" fill="#565665"/>
<rect x="374" y="231.0" width="1" height="32.0" fill="#0a91fb"/><rect x="373" y="249.8" width="3" height="12.7" fill="#0a91fb"/>
<rect x="377" y="248.2" width="1" height="20.3" fill="#565665"/><rect x="376" y="249.0" width="3" height="12.4" fill="#565665"/>
<rect x="381" y="254.2" width="1" height="42.4" fill="#565665"/><rect x="380" y="260.2" width="3" height="26.0" fill="#565665"/>
<rect x="384" y="285.8" width="1" height="22.7" fill="#565665"/><rect x="383" y="286.2" width="3" height="12.4" fill="#565665"/>
<rect x="387" y="287.4" width="1" height="20.4" fill="#0a91fb"/><rect x="386" y="293.0" width="3" height="5.7" fill="#0a91fb"/>
<rect x="390" y="286.2" width="1" height="15.2" fill="#0a91fb"/><rect x="389" y="292.3" width="3" height="1.4" fill="#0a91fb"/>
<rect x="394" y="279.2" width="1" height="17.4" fill="#0a91fb"/><rect x="393" y="283.0" width="3" height="9.6" fill="#0a91fb"/>
<rect x="397" y="242.2" width="1" height="41.1" fill="#0a91fb"/><rect x="396" y="248.2" width="3" height="35.1" fill="#0a91fb"/>
<rect x="400" y="224.6" width="1" height="29.6" fill="#0a91fb"/><rect x="399" y="234.2" width="3" height="14.5" fill="#0a91fb"/>
<rect x="403" y="223.0" width="1" height="25.6" fill="#565665"/><rect x="402" y="234.2" width="3" height="3.7" fill="#565665"/>
<rect x="406" y="231.8" width="1" height="12.8" fill="#565665"/><rect x="405" y="237.0" width="3" height="1.0" fill="#565665"/>
<rect x="410" y="217.1" width="1" height="43.5" fill="#565665"/><rect x="409" y="237.0" width="3" height="15.5" fill="#565665"/>
<rect x="413" y="237.0" width="1" height="16.9" fill="#0a91fb"/><rect x="412" y="242.2" width="3" height="10.3" fill="#0a91fb"/>
<rect x="416" y="236.2" width="1" height="20.3" fill="#565665"/><rect x="415" y="242.2" width="3" height="8.7" fill="#565665"/>
<rect x="419" y="239.5" width="1" height="27.2" fill="#565665"/><rect x="418" y="247.0" width="3" height="5.3" fill="#565665"/>
<rect x="423" y="247.8" width="1" height="28.0" fill="#565665"/><rect x="422" y="251.0" width="3" height="13.6" fill="#565665"/>
<rect x="426" y="252.9" width="1" height="25.8" fill="#0a91fb"/><rect x="425" y="260.3" width="3" height="4.3" fill="#0a91fb"/>
<rect x="429" y="244.3" width="1" height="24.3" fill="#0a91fb"/><rect x="428" y="246.2" width="3" height="14.4" fill="#0a91fb"/>
<rect x="432" y="243.8" width="1" height="18.1" fill="#565665"/><rect x="431" y="246.2" width="3" height="4.0" fill="#565665"/>
<rect x="435" y="245.4" width="1" height="12.3" fill="#565665"/><rect x="434" y="249.4" width="3" height="1.3" fill="#565665"/>
<rect x="439" y="248.1" width="1" height="7.4" fill="#565665"/><rect x="438" y="249.4" width="3" height="2.9" fill="#565665"/>
<rect x="442" y="248.1" width="1" height="17.3" fill="#565665"/><rect x="441" y="252.6" width="3" height="3.2" fill="#565665"/>
<rect x="445" y="253.9" width="1" height="8.0" fill="#565665"/><rect x="444" y="255.0" width="3" height="4.5" fill="#565665"/>
<rect x="448" y="256.6" width="1" height="8.8" fill="#565665"/><rect x="447" y="259.0" width="3" height="2.4" fill="#565665"/>
<rect x="452" y="247.8" width="1" height="45.6" fill="#0a91fb"/><rect x="451" y="254.2" width="3" height="7.2" fill="#0a91fb"/>
<rect x="455" y="252.3" width="1" height="14.4" fill="#565665"/><rect x="454" y="253.4" width="3" height="7.5" fill="#565665"/>
<rect x="458" y="259.8" width="1" height="14.9" fill="#565665"/><rect x="457" y="260.3" width="3" height="10.7" fill="#565665"/>
<rect x="461" y="263.8" width="1" height="14.7" fill="#0a91fb"/><rect x="460" y="268.3" width="3" height="3.2" fill="#0a91fb"/>
<rect x="464" y="267.0" width="1" height="25.6" fill="#565665"/><rect x="463" y="268.3" width="3" height="19.2" fill="#565665"/>
<rect x="468" y="282.2" width="1" height="91.3" fill="#565665"/><rect x="467" y="287.0" width="3" height="65.2" fill="#565665"/>
<rect x="471" y="339.9" width="1" height="29.1" fill="#565665"/><rect x="470" y="352.2" width="3" height="4.8" fill="#565665"/>
<rect x="474" y="356.2" width="1" height="42.2" fill="#565665"/><rect x="473" y="357.0" width="3" height="21.6" fill="#565665"/>
<rect x="477" y="365.8" width="1" height="25.1" fill="#0a91fb"/><rect x="476" y="371.4" width="3" height="8.3" fill="#0a91fb"/>
<rect x="480" y="362.9" width="1" height="18.9" fill="#0a91fb"/><rect x="479" y="371.1" width="3" height="1.1" fill="#0a91fb"/>
<rect x="484" y="368.2" width="1" height="19.2" fill="#565665"/><rect x="483" y="370.1" width="3" height="9.6" fill="#565665"/>
<rect x="487" y="359.4" width="1" height="39.8" fill="#0a91fb"/><rect x="486" y="365.0" width="3" height="14.7" fill="#0a91fb"/>
<rect x="490" y="352.2" width="1" height="19.2" fill="#0a91fb"/><rect x="489" y="363.4" width="3" height="2.1" fill="#0a91fb"/>
<rect x="493" y="360.2" width="1" height="12.0" fill="#0a91fb"/><rect x="492" y="361.0" width="3" height="3.2" fill="#0a91fb"/>
<rect x="497" y="357.8" width="1" height="20.8" fill="#565665"/><rect x="496" y="361.0" width="3" height="8.0" fill="#565665"/>
<rect x="500" y="367.9" width="1" height="13.1" fill="#565665"/><rect x="499" y="368.2" width="3" height="5.1" fill="#565665"/>
<rect x="503" y="371.4" width="1" height="9.6" fill="#565665"/><rect x="502" y="372.7" width="3" height="1.6" fill="#565665"/>
<rect x="506" y="372.2" width="1" height="22.5" fill="#565665"/><rect x="505" y="373.8" width="3" height="17.1" fill="#565665"/>
<rect x="509" y="365.0" width="1" height="31.5" fill="#0a91fb"/><rect x="508" y="369.8" width="3" height="21.1" fill="#0a91fb"/>
<rect x="513" y="363.4" width="1" height="13.1" fill="#565665"/><rect x="512" y="370.6" width="3" height="2.1" fill="#565665"/>
<rect x="516" y="341.8" width="1" height="33.6" fill="#0a91fb"/><rect x="515" y="349.0" width="3" height="23.7" fill="#0a91fb"/>
<rect x="519" y="345.5" width="1" height="11.5" fill="#565665"/><rect x="518" y="349.0" width="3" height="1.3" fill="#565665"/>
<rect x="522" y="336.2" width="1" height="34.4" fill="#565665"/><rect x="521" y="349.8" width="3" height="18.1" fill="#565665"/>
<rect x="526" y="358.3" width="1" height="9.6" fill="#0a91fb"/><rect x="525" y="363.7" width="3" height="4.2" fill="#0a91fb"/>
<rect x="529" y="356.2" width="1" height="18.4" fill="#565665"/><rect x="528" y="365.0" width="3" height="1.3" fill="#565665"/>
<rect x="532" y="358.9" width="1" height="11.7" fill="#0a91fb"/><rect x="531" y="361.8" width="3" height="4.5" fill="#0a91fb"/>
<rect x="535" y="358.1" width="1" height="19.7" fill="#565665"/><rect x="534" y="361.8" width="3" height="11.7" fill="#565665"/>
<rect x="538" y="372.2" width="1" height="15.2" fill="#565665"/><rect x="537" y="372.7" width="3" height="9.9" fill="#565665"/>
<rect x="542" y="375.4" width="1" height="11.2" fill="#0a91fb"/><rect x="541" y="376.7" width="3" height="6.4" fill="#0a91fb"/>
<rect x="545" y="374.9" width="1" height="17.6" fill="#565665"/><rect x="544" y="378.3" width="3" height="7.5" fill="#565665"/>
<rect x="548" y="377.0" width="1" height="12.0" fill="#0a91fb"/><rect x="547" y="384.2" width="3" height="1.9" fill="#0a91fb"/>
<rect x="551" y="365.0" width="1" height="24.0" fill="#0a91fb"/><rect x="550" y="368.5" width="3" height="16.5" fill="#0a91fb"/>
<rect x="555" y="362.1" width="1" height="12.5" fill="#565665"/><rect x="554" y="368.2" width="3" height="1.6" fill="#565665"/>
<rect x="558" y="363.4" width="1" height="19.2" fill="#565665"/><rect x="557" y="369.0" width="3" height="11.7" fill="#565665"/>
<rect x="561" y="378.6" width="1" height="43.0" fill="#565665"/><rect x="560" y="380.7" width="3" height="31.3" fill="#565665"/>
<rect x="564" y="409.1" width="1" height="8.5" fill="#565665"/><rect x="563" y="412.0" width="3" height="2.4" fill="#565665"/>
<rect x="567" y="337.0" width="1" height="79.8" fill="#0a91fb"/><rect x="566" y="345.0" width="3" height="69.4" fill="#0a91fb"/>
<rect x="571" y="239.1" width="1" height="106.7" fill="#0a91fb"/><rect x="570" y="311.4" width="3" height="32.0" fill="#0a91fb"/>
<rect x="574" y="279.1" width="1" height="36.3" fill="#0a91fb"/><rect x="573" y="294.9" width="3" height="18.9" fill="#0a91fb"/>
<rect x="577" y="273.0" width="1" height="44.0" fill="#565665"/><rect x="576" y="294.9" width="3" height="18.1" fill="#565665"/>
<rect x="580" y="294.1" width="1" height="28.5" fill="#0a91fb"/><rect x="579" y="301.0" width="3" height="12.0" fill="#0a91fb"/>
<rect x="584" y="301.8" width="1" height="25.6" fill="#565665"/><rect x="583" y="302.3" width="3" height="14.7" fill="#565665"/>
<rect x="587" y="301.0" width="1" height="27.5" fill="#565665"/><rect x="586" y="316.2" width="3" height="1.6" fill="#565665"/>
<rect x="590" y="309.0" width="1" height="14.4" fill="#0a91fb"/><rect x="589" y="312.2" width="3" height="4.8" fill="#0a91fb"/>
<rect x="593" y="303.9" width="1" height="10.7" fill="#0a91fb"/><rect x="592" y="309.0" width="3" height="3.2" fill="#0a91fb"/>
<rect x="596" y="304.2" width="1" height="18.4" fill="#565665"/><rect x="595" y="307.9" width="3" height="6.2" fill="#565665"/>
<rect x="600" y="291.9" width="1" height="27.5" fill="#0a91fb"/><rect x="599" y="301.8" width="3" height="12.8" fill="#0a91fb"/>
<rect x="603" y="299.1" width="1" height="17.1" fill="#565665"/><rect x="602" y="302.9" width="3" height="5.8" fill="#565665"/>
<rect x="606" y="301.0" width="1" height="11.2" fill="#0a91fb"/><rect x="605" y="307.4" width="3" height="1.6" fill="#0a91fb"/>
<rect x="609" y="305.0" width="1" height="17.6" fill="#565665"/><rect x="608" y="307.4" width="3" height="7.2" fill="#565665"/>
<rect x="612" y="312.2" width="1" height="33.6" fill="#565665"/><rect x="611" y="314.6" width="3" height="24.8" fill="#565665"/>
<rect x="616" y="333.0" width="1" height="9.6" fill="#0a91fb"/><rect x="615" y="335.9" width="3" height="3.5" fill="#0a91fb"/>
<rect x="619" y="317.0" width="1" height="24.8" fill="#0a91fb"/><rect x="618" y="324.2" width="3" height="14.4" fill="#0a91fb"/>
<rect x="622" y="321.8" width="1" height="28.0" fill="#565665"/><rect x="621" y="323.4" width="3" height="18.4" fill="#565665"/>
<rect x="625" y="333.0" width="1" height="18.4" fill="#0a91fb"/><rect x="624" y="336.2" width="3" height="5.6" fill="#0a91fb"/>
<rect x="629" y="334.9" width="1" height="8.5" fill="#565665"/><rect x="628" y="335.9" width="3" height="3.5" fill="#565665"/>
<rect x="632" y="337.0" width="1" height="14.4" fill="#565665"/><rect x="631" y="339.1" width="3" height="7.5" fill="#565665"/>
<rect x="635" y="339.4" width="1" height="23.2" fill="#565665"/><rect x="634" y="346.6" width="3" height="10.4" fill="#565665"/>
<rect x="638" y="353.0" width="1" height="5.6" fill="#0a91fb"/><rect x="637" y="354.1" width="3" height="2.1" fill="#0a91fb"/>
<rect x="641" y="346.5" width="1" height="15.0" fill="#0a91fb"/><rect x="640" y="353.9" width="3" height="1.8" fill="#0a91fb"/>
<rect x="645" y="353.9" width="1" height="27.8" fill="#565665"/><rect x="644" y="354.1" width="3" height="18.8" fill="#565665"/>
<rect x="648" y="371.3" width="1" height="9.8" fill="#565665"/><rect x="647" y="372.3" width="3" height="3.1" fill="#565665"/>
<rect x="651" y="369.1" width="1" height="14.1" fill="#565665"/><rect x="650" y="373.6" width="3" height="4.0" fill="#565665"/>
<rect x="654" y="376.0" width="1" height="42.7" fill="#565665"/><rect x="653" y="376.8" width="3" height="26.4" fill="#565665"/>
<rect x="658" y="398.4" width="1" height="53.4" fill="#565665"/><rect x="657" y="403.2" width="3" height="19.3" fill="#565665"/>
<rect x="661" y="418.1" width="1" height="16.2" fill="#0a91fb"/><rect x="660" y="418.4" width="3" height="4.0" fill="#0a91fb"/>
<rect x="664" y="418.7" width="1" height="28.3" fill="#565665"/><rect x="663" y="420.0" width="3" height="24.6" fill="#565665"/>
<rect x="667" y="416.9" width="1" height="48.5" fill="#0a91fb"/><rect x="666" y="431.1" width="3" height="13.2" fill="#0a91fb"/>
<rect x="670" y="419.1" width="1" height="18.4" fill="#0a91fb"/><rect x="669" y="428.9" width="3" height="2.6" fill="#0a91fb"/>
<rect x="674" y="400.5" width="1" height="46.5" fill="#0a91fb"/><rect x="673" y="408.9" width="3" height="20.6" fill="#0a91fb"/>
<rect x="677" y="407.2" width="1" height="10.4" fill="#565665"/><rect x="676" y="408.8" width="3" height="6.1" fill="#565665"/>
<rect x="680" y="389.3" width="1" height="26.7" fill="#0a91fb"/><rect x="679" y="396.0" width="3" height="18.9" fill="#0a91fb"/>
<rect x="683" y="392.0" width="1" height="21.6" fill="#565665"/><rect x="682" y="394.9" width="3" height="12.3" fill="#565665"/>
<rect x="687" y="406.9" width="1" height="18.7" fill="#565665"/><rect x="686" y="407.2" width="3" height="9.3" fill="#565665"/>
<rect x="690" y="413.9" width="1" height="15.7" fill="#565665"/><rect x="689" y="415.2" width="3" height="6.4" fill="#565665"/>
<rect x="693" y="416.5" width="1" height="10.7" fill="#565665"/><rect x="692" y="421.3" width="3" height="1.1" fill="#565665"/>
<rect x="696" y="395.2" width="1" height="39.5" fill="#565665"/><rect x="695" y="421.3" width="3" height="5.9" fill="#565665"/>
<rect x="699" y="411.2" width="1" height="19.2" fill="#0a91fb"/><rect x="698" y="416.0" width="3" height="11.2" fill="#0a91fb"/>
<rect x="703" y="404.0" width="1" height="17.6" fill="#0a91fb"/><rect x="702" y="408.0" width="3" height="8.8" fill="#0a91fb"/>
<rect x="706" y="401.6" width="1" height="9.6" fill="#0a91fb"/><rect x="705" y="408.0" width="3" height="2.4" fill="#0a91fb"/>
<rect x="709" y="405.3" width="1" height="11.2" fill="#0a91fb"/><rect x="708" y="408.8" width="3" height="2.4" fill="#0a91fb"/>
<rect x="712" y="401.6" width="1" height="22.4" fill="#565665"/><rect x="711" y="408.8" width="3" height="11.2" fill="#565665"/>
<rect x="715" y="416.0" width="1" height="14.4" fill="#565665"/><rect x="714" y="418.7" width="3" height="8.5" fill="#565665"/>
<rect x="719" y="423.2" width="1" height="8.8" fill="#565665"/><rect x="718" y="426.4" width="3" height="1.3" fill="#565665"/>
<rect x="722" y="421.6" width="1" height="13.1" fill="#565665"/><rect x="721" y="427.2" width="3" height="1.1" fill="#565665"/>
<rect x="725" y="420.8" width="1" height="8.0" fill="#0a91fb"/><rect x="724" y="423.7" width="3" height="4.6" fill="#0a91fb"/>
<rect x="728" y="422.9" width="1" height="14.7" fill="#565665"/><rect x="727" y="423.7" width="3" height="12.3" fill="#565665"/>
<rect x="732" y="426.4" width="1" height="12.5" fill="#0a91fb"/><rect x="731" y="431.7" width="3" height="4.3" fill="#0a91fb"/>
<rect x="735" y="429.6" width="1" height="20.6" fill="#565665"/><rect x="734" y="431.7" width="3" height="14.2" fill="#565665"/>
<rect x="738" y="442.2" width="1" height="21.6" fill="#565665"/><rect x="737" y="445.4" width="3" height="15.2" fill="#565665"/>
<rect x="741" y="412.7" width="1" height="57.5" fill="#0a91fb"/><rect x="740" y="422.1" width="3" height="38.5" fill="#0a91fb"/>
<rect x="744" y="416.8" width="1" height="19.2" fill="#565665"/><rect x="743" y="421.9" width="3" height="9.3" fill="#565665"/>
<rect x="748" y="426.4" width="1" height="8.3" fill="#0a91fb"/><rect x="747" y="427.7" width="3" height="3.5" fill="#0a91fb"/>
<rect x="751" y="426.4" width="1" height="6.1" fill="#565665"/><rect x="750" y="427.7" width="3" height="3.2" fill="#565665"/>
<rect x="754" y="408.0" width="1" height="23.2" fill="#0a91fb"/><rect x="753" y="408.8" width="3" height="22.1" fill="#0a91fb"/>
<rect x="757" y="399.2" width="1" height="24.8" fill="#565665"/><rect x="756" y="408.8" width="3" height="12.8" fill="#565665"/>
<rect x="761" y="414.4" width="1" height="14.4" fill="#565665"/><rect x="760" y="420.8" width="3" height="4.0" fill="#565665"/>
<rect x="764" y="423.2" width="1" height="8.8" fill="#565665"/><rect x="763" y="424.0" width="3" height="4.8" fill="#565665"/>
<rect x="767" y="413.9" width="1" height="17.3" fill="#0a91fb"/><rect x="766" y="427.2" width="3" height="1.0" fill="#0a91fb"/>
<rect x="770" y="423.2" width="1" height="12.8" fill="#0a91fb"/><rect x="769" y="424.0" width="3" height="3.7" fill="#0a91fb"/>
<rect x="773" y="418.4" width="1" height="7.2" fill="#0a91fb"/><rect x="772" y="421.6" width="3" height="2.9" fill="#0a91fb"/>
<rect x="777" y="408.0" width="1" height="14.4" fill="#0a91fb"/><rect x="776" y="416.0" width="3" height="5.9" fill="#0a91fb"/>
<rect x="780" y="415.2" width="1" height="12.8" fill="#565665"/><rect x="779" y="416.5" width="3" height="10.7" fill="#565665"/>
<rect x="783" y="420.8" width="1" height="12.0" fill="#565665"/><rect x="782" y="426.4" width="3" height="3.2" fill="#565665"/>
<rect x="786" y="425.6" width="1" height="6.4" fill="#0a91fb"/><rect x="785" y="428.8" width="3" height="1.1" fill="#0a91fb"/>
<rect x="790" y="427.2" width="1" height="17.4" fill="#565665"/><rect x="789" y="428.8" width="3" height="12.9" fill="#565665"/>
<rect x="793" y="416.0" width="1" height="31.0" fill="#0a91fb"/><rect x="792" y="418.4" width="3" height="23.3" fill="#0a91fb"/>
<rect x="796" y="416.5" width="1" height="5.1" fill="#0a91fb"/><rect x="795" y="418.4" width="3" height="1.0" fill="#0a91fb"/>
<rect x="799" y="411.2" width="1" height="9.6" fill="#0a91fb"/><rect x="798" y="417.6" width="3" height="1.6" fill="#0a91fb"/>
<rect x="802" y="393.6" width="1" height="26.4" fill="#0a91fb"/><rect x="801" y="395.2" width="3" height="24.0" fill="#0a91fb"/>
<rect x="806" y="369.6" width="1" height="28.8" fill="#0a91fb"/><rect x="805" y="372.8" width="3" height="23.2" fill="#0a91fb"/>
<rect x="809" y="355.2" width="1" height="27.2" fill="#565665"/><rect x="808" y="372.8" width="3" height="6.4" fill="#565665"/>
<rect x="812" y="378.4" width="1" height="18.4" fill="#565665"/><rect x="811" y="379.2" width="3" height="13.6" fill="#565665"/>
<rect x="815" y="369.6" width="1" height="32.0" fill="#0a91fb"/><rect x="814" y="370.1" width="3" height="23.5" fill="#0a91fb"/>
<rect x="819" y="365.9" width="1" height="17.3" fill="#565665"/><rect x="818" y="371.2" width="3" height="10.7" fill="#565665"/>
<rect x="822" y="372.0" width="1" height="12.8" fill="#0a91fb"/><rect x="821" y="372.8" width="3" height="9.1" fill="#0a91fb"/>
<rect x="825" y="372.0" width="1" height="8.8" fill="#565665"/><rect x="824" y="372.8" width="3" height="4.0" fill="#565665"/>
<rect x="828" y="348.8" width="1" height="28.0" fill="#0a91fb"/><rect x="827" y="352.0" width="3" height="24.8" fill="#0a91fb"/>
</g>
<g id="fib">
<line x1="203" y1="56.5" x2="967.2" y2="56.5" stroke="#ff3c3c" stroke-width="1" stroke-dasharray="2 1" opacity="0.82"/><text x="971.7" y="53.9" font-size="12" fill="#ff0a1e" stroke="#ff0a1e" stroke-width="0.45" textLength="100.0" lengthAdjust="spacingAndGlyphs">100.00%(13810.74)</text>
<line x1="203" y1="144.5" x2="967.2" y2="144.5" stroke="#ff3c3c" stroke-width="1" stroke-dasharray="2 1" opacity="0.82"/><text x="971.7" y="141.9" font-size="12" fill="#ff0a1e" stroke="#ff0a1e" stroke-width="0.45" textLength="94" lengthAdjust="spacingAndGlyphs">78.60%(12231.76)</text>
<line x1="203" y1="214.5" x2="967.2" y2="214.5" stroke="#ff3c3c" stroke-width="1" stroke-dasharray="2 1" opacity="0.82"/><text x="971.7" y="211.9" font-size="12" fill="#ff0a1e" stroke="#ff0a1e" stroke-width="0.45" textLength="94" lengthAdjust="spacingAndGlyphs">61.80%(10992.19)</text>
<line x1="203" y1="263.5" x2="967.2" y2="263.5" stroke="#ff3c3c" stroke-width="1" stroke-dasharray="2 1" opacity="0.82"/><text x="971.7" y="260.9" font-size="12" fill="#ff0a1e" stroke="#ff0a1e" stroke-width="0.45" textLength="93.7" lengthAdjust="spacingAndGlyphs">50.00%(10121.54)</text>
<line x1="203" y1="312.5" x2="967.2" y2="312.5" stroke="#ff3c3c" stroke-width="1" stroke-dasharray="2 1" opacity="0.82"/><text x="971.7" y="309.9" font-size="12" fill="#ff0a1e" stroke="#ff0a1e" stroke-width="0.45" textLength="87.5" lengthAdjust="spacingAndGlyphs">38.20%(9250.89)</text>
<line x1="203" y1="372.5" x2="967.2" y2="372.5" stroke="#ff3c3c" stroke-width="1" stroke-dasharray="2 1" opacity="0.82"/><text x="971.7" y="369.9" font-size="12" fill="#ff0a1e" stroke="#ff0a1e" stroke-width="0.45" textLength="87.5" lengthAdjust="spacingAndGlyphs">23.60%(8173.65)</text>
<line x1="203" y1="470.5" x2="967.2" y2="470.5" stroke="#ff3c3c" stroke-width="1" stroke-dasharray="2 1" opacity="0.82"/><text x="971.7" y="467.9" font-size="12" fill="#ff0a1e" stroke="#ff0a1e" stroke-width="0.45" textLength="80.5" lengthAdjust="spacingAndGlyphs">0.00%(6432.35)</text>
</g>
<rect x="471.6" y="314.4" width="359.9" height="4.9" fill="#d998b9" opacity="0.6"/>
<rect x="471.6" y="343.4" width="359.9" height="7.6" fill="#d998b9" opacity="0.6"/>
<rect x="471.6" y="398.3" width="359.9" height="8.9" fill="#d998b9" opacity="0.6"/>
<line x1="465.2" y1="401.1" x2="951" y2="401.1" stroke="#3a00ff" stroke-width="1.5" opacity="0.9"/>
<line x1="465.2" y1="412.3" x2="951" y2="412.3" stroke="#3a00ff" stroke-width="1.4" opacity="1"/>
<line x1="465.2" y1="427.5" x2="951" y2="427.5" stroke="#3a00ff" stroke-width="1.4" opacity="1"/>
<line x1="465.2" y1="447.5" x2="951" y2="447.5" stroke="#3a00ff" stroke-width="1.4" opacity="1"/>
<rect x="381" y="340" width="66" height="18" fill="#fff" opacity="0.88"/>
<text x="386.3" y="353.9" font-size="12.2" font-style="italic" fill="#3a00f5" style="font-family:'DejaVu Sans',sans-serif" textLength="54.2" lengthAdjust="spacingAndGlyphs">200 DMA</text>
<rect x="685" y="373.6" width="56" height="17" fill="#fff" opacity="0.88"/>
<text x="689.9" y="386.7" font-size="12.2" font-style="italic" fill="#3a00f5" style="font-family:'DejaVu Sans',sans-serif" textLength="46" lengthAdjust="spacingAndGlyphs">50 DMA</text>
<rect x="1187.8" y="23.2" width="61.6" height="596.3" fill="#fff"/>
<rect x="6.3" y="592.9" width="1243.1" height="26.6" fill="#fff"/>
<line x1="6.3" y1="592.4" x2="1249.4" y2="592.4" stroke="#6b6b6b" stroke-width="1"/>
<line x1="1187.3" y1="23.2" x2="1187.3" y2="619.5" stroke="#6b6b6b" stroke-width="1"/>
<g id="paxis" font-size="10.6" fill="#0c0c10">
<line x1="1187.3" y1="45.4" x2="1192.3" y2="45.4" stroke="#6b6b6b" stroke-width="1"/><text x="1196.2" y="49.8" stroke="#0c0c10" stroke-width="0.25" textLength="44.0" lengthAdjust="spacingAndGlyphs">14000.00</text>
<line x1="1187.3" y1="73.5" x2="1192.3" y2="73.5" stroke="#6b6b6b" stroke-width="1"/><text x="1196.2" y="77.9" stroke="#0c0c10" stroke-width="0.25" textLength="44.0" lengthAdjust="spacingAndGlyphs">13500.00</text>
<line x1="1187.3" y1="101.6" x2="1192.3" y2="101.6" stroke="#6b6b6b" stroke-width="1"/><text x="1196.2" y="106.0" stroke="#0c0c10" stroke-width="0.25" textLength="44.0" lengthAdjust="spacingAndGlyphs">13000.00</text>
<line x1="1187.3" y1="129.6" x2="1192.3" y2="129.6" stroke="#6b6b6b" stroke-width="1"/><text x="1196.2" y="134.0" stroke="#0c0c10" stroke-width="0.25" textLength="44.0" lengthAdjust="spacingAndGlyphs">12500.00</text>
<line x1="1187.3" y1="157.7" x2="1192.3" y2="157.7" stroke="#6b6b6b" stroke-width="1"/><text x="1196.2" y="162.1" stroke="#0c0c10" stroke-width="0.25" textLength="44.0" lengthAdjust="spacingAndGlyphs">12000.00</text>
<line x1="1187.3" y1="185.8" x2="1192.3" y2="185.8" stroke="#6b6b6b" stroke-width="1"/><text x="1196.2" y="190.2" stroke="#0c0c10" stroke-width="0.25" textLength="44.0" lengthAdjust="spacingAndGlyphs">11500.00</text>
<line x1="1187.3" y1="213.9" x2="1192.3" y2="213.9" stroke="#6b6b6b" stroke-width="1"/><text x="1196.2" y="218.3" stroke="#0c0c10" stroke-width="0.25" textLength="44.0" lengthAdjust="spacingAndGlyphs">11000.00</text>
<line x1="1187.3" y1="242.0" x2="1192.3" y2="242.0" stroke="#6b6b6b" stroke-width="1"/><text x="1196.2" y="246.4" stroke="#0c0c10" stroke-width="0.25" textLength="44.0" lengthAdjust="spacingAndGlyphs">10500.00</text>
<line x1="1187.3" y1="270.0" x2="1192.3" y2="270.0" stroke="#6b6b6b" stroke-width="1"/><text x="1196.2" y="274.4" stroke="#0c0c10" stroke-width="0.25" textLength="44.0" lengthAdjust="spacingAndGlyphs">10000.00</text>
<line x1="1187.3" y1="298.1" x2="1192.3" y2="298.1" stroke="#6b6b6b" stroke-width="1"/><text x="1196.2" y="302.5" stroke="#0c0c10" stroke-width="0.25" textLength="38.0" lengthAdjust="spacingAndGlyphs">9500.00</text>
<line x1="1187.3" y1="326.2" x2="1192.3" y2="326.2" stroke="#6b6b6b" stroke-width="1"/><text x="1196.2" y="330.6" stroke="#0c0c10" stroke-width="0.25" textLength="38.0" lengthAdjust="spacingAndGlyphs">9000.00</text>
<line x1="1187.3" y1="354.3" x2="1192.3" y2="354.3" stroke="#6b6b6b" stroke-width="1"/><text x="1196.2" y="358.7" stroke="#0c0c10" stroke-width="0.25" textLength="38.0" lengthAdjust="spacingAndGlyphs">8500.00</text>
<line x1="1187.3" y1="382.4" x2="1192.3" y2="382.4" stroke="#6b6b6b" stroke-width="1"/><text x="1196.2" y="386.8" stroke="#0c0c10" stroke-width="0.25" textLength="38.0" lengthAdjust="spacingAndGlyphs">8000.00</text>
<line x1="1187.3" y1="410.4" x2="1192.3" y2="410.4" stroke="#6b6b6b" stroke-width="1"/><text x="1196.2" y="414.8" stroke="#0c0c10" stroke-width="0.25" textLength="38.0" lengthAdjust="spacingAndGlyphs">7500.00</text>
<line x1="1187.3" y1="438.5" x2="1192.3" y2="438.5" stroke="#6b6b6b" stroke-width="1"/><text x="1196.2" y="442.9" stroke="#0c0c10" stroke-width="0.25" textLength="38.0" lengthAdjust="spacingAndGlyphs">7000.00</text>
<line x1="1187.3" y1="466.6" x2="1192.3" y2="466.6" stroke="#6b6b6b" stroke-width="1"/><text x="1196.2" y="471.0" stroke="#0c0c10" stroke-width="0.25" textLength="38.0" lengthAdjust="spacingAndGlyphs">6500.00</text>
<line x1="1187.3" y1="494.7" x2="1192.3" y2="494.7" stroke="#6b6b6b" stroke-width="1"/><text x="1196.2" y="499.1" stroke="#0c0c10" stroke-width="0.25" textLength="38.0" lengthAdjust="spacingAndGlyphs">6000.00</text>
<line x1="1187.3" y1="522.8" x2="1192.3" y2="522.8" stroke="#6b6b6b" stroke-width="1"/><text x="1196.2" y="527.2" stroke="#0c0c10" stroke-width="0.25" textLength="38.0" lengthAdjust="spacingAndGlyphs">5500.00</text>
<line x1="1187.3" y1="550.8" x2="1192.3" y2="550.8" stroke="#6b6b6b" stroke-width="1"/><text x="1196.2" y="555.2" stroke="#0c0c10" stroke-width="0.25" textLength="38.0" lengthAdjust="spacingAndGlyphs">5000.00</text>
<line x1="1187.3" y1="578.9" x2="1192.3" y2="578.9" stroke="#6b6b6b" stroke-width="1"/><text x="1196.2" y="583.3" stroke="#0c0c10" stroke-width="0.25" textLength="38.0" lengthAdjust="spacingAndGlyphs">4500.00</text>
</g>
<g id="taxis" font-size="10.6" fill="#0c0c10" text-anchor="middle">
<line x1="98.5" y1="592.4" x2="98.5" y2="596.4" stroke="#6b6b6b" stroke-width="1"/><text x="97.8" y="611" stroke="#0c0c10" stroke-width="0.2">Jun</text>
<line x1="195.4" y1="592.4" x2="195.4" y2="596.4" stroke="#6b6b6b" stroke-width="1"/><text x="194.7" y="611" stroke="#0c0c10" stroke-width="0.2">Jul</text>
<line x1="295.4" y1="592.4" x2="295.4" y2="596.4" stroke="#6b6b6b" stroke-width="1"/><text x="294.7" y="611" stroke="#0c0c10" stroke-width="0.2">Aug</text>
<line x1="394.4" y1="592.4" x2="394.4" y2="596.4" stroke="#6b6b6b" stroke-width="1"/><text x="393.7" y="611" stroke="#0c0c10" stroke-width="0.2">Sep</text>
<line x1="491.2" y1="592.4" x2="491.2" y2="596.4" stroke="#6b6b6b" stroke-width="1"/><text x="490.5" y="611" stroke="#0c0c10" stroke-width="0.2">Oct</text>
<line x1="591.2" y1="592.4" x2="591.2" y2="596.4" stroke="#6b6b6b" stroke-width="1"/><text x="590.5" y="611" stroke="#0c0c10" stroke-width="0.2">Nov</text>
<line x1="688.3" y1="592.4" x2="688.3" y2="596.4" stroke="#6b6b6b" stroke-width="1"/><text x="687.6" y="611" stroke="#0c0c10" stroke-width="0.2">Dec</text>
<line x1="787.4" y1="592.4" x2="787.4" y2="596.4" stroke="#6b6b6b" stroke-width="1"/><text x="786.7" y="611" stroke="#0c0c10" stroke-width="0.2" font-weight="bold">2020</text>
<line x1="887.2" y1="592.4" x2="887.2" y2="596.4" stroke="#6b6b6b" stroke-width="1"/><text x="886.5" y="611" stroke="#0c0c10" stroke-width="0.2">Feb</text>
<line x1="981.2" y1="592.4" x2="981.2" y2="596.4" stroke="#6b6b6b" stroke-width="1"/><text x="980.5" y="611" stroke="#0c0c10" stroke-width="0.2">Mar</text>
<line x1="1080.5" y1="592.4" x2="1080.5" y2="596.4" stroke="#6b6b6b" stroke-width="1"/><text x="1079.8" y="611" stroke="#0c0c10" stroke-width="0.2">Apr</text>
<line x1="1177.7" y1="592.4" x2="1177.7" y2="596.4" stroke="#6b6b6b" stroke-width="1"/><text x="1177.0" y="611" stroke="#0c0c10" stroke-width="0.2">May</text>
</g>
<g id="top" font-size="12.6">
<text x="6.4" y="14" fill="#ffffff" font-weight="bold" textLength="131.9" lengthAdjust="spacingAndGlyphs">COINBASE:BTCUSD, 1D</text>
<text x="144.2" y="14" fill="#ffffff" textLength="45.6" lengthAdjust="spacingAndGlyphs">8536.70</text>
<polygon points="193.2,13.6 198.3,5.4 203.4,13.6" fill="#0f9d90"/>
<text x="207.6" y="14" fill="#ffffff" textLength="97.6" lengthAdjust="spacingAndGlyphs">+432.20 (+5.33%)</text>
<text x="310.3" y="14" fill="#ffffff" font-weight="bold" textLength="12.2" lengthAdjust="spacingAndGlyphs">O:</text>
<text x="324.2" y="14" fill="#0f9d90" textLength="45.2" lengthAdjust="spacingAndGlyphs">8105.60</text>
<text x="374.5" y="14" fill="#ffffff" font-weight="bold" textLength="12.0" lengthAdjust="spacingAndGlyphs">H:</text>
<text x="388.5" y="14" fill="#0f9d90" textLength="45.3" lengthAdjust="spacingAndGlyphs">8590.38</text>
<text x="439.0" y="14" fill="#ffffff" font-weight="bold" textLength="8.2" lengthAdjust="spacingAndGlyphs">L:</text>
<text x="449.2" y="14" fill="#0f9d90" textLength="45.2" lengthAdjust="spacingAndGlyphs">8105.23</text>
<text x="499.2" y="14" fill="#ffffff" font-weight="bold" textLength="10.2" lengthAdjust="spacingAndGlyphs">C:</text>
<text x="511.2" y="14" fill="#0f9d90" textLength="45.6" lengthAdjust="spacingAndGlyphs">8536.70</text>
</g>
<g id="logo">
<path d="M9.8,645.1 C7.4,645.1 5.8,643.3 5.8,641.0 C5.8,638.6 7.6,636.8 10.2,636.7 C10.5,632.8 13.3,629.8 17.0,629.8 C19.9,629.8 22.3,631.6 23.2,634.3 C23.9,633.9 24.8,633.7 25.7,633.7 C28.3,633.7 30.2,635.5 30.6,637.9 C31.6,638.6 32.2,639.9 32.2,641.2 C32.2,643.4 30.5,645.1 28.2,645.1 Z" fill="#0a94f8"/>
<polyline points="6.3,642.9 15.6,635.9 22.0,641.4 28.6,635.0" fill="none" stroke="#131722" stroke-width="1.3"/>
<circle cx="15.8" cy="635.6" r="1.7" fill="#131722"/><circle cx="22.0" cy="641.5" r="1.8" fill="#131722"/>
<text x="34.1" y="642.2" font-size="12.6" fill="#ffffff" textLength="70.6" lengthAdjust="spacingAndGlyphs">TradingView</text>
</g>
</svg>
</body></html>
